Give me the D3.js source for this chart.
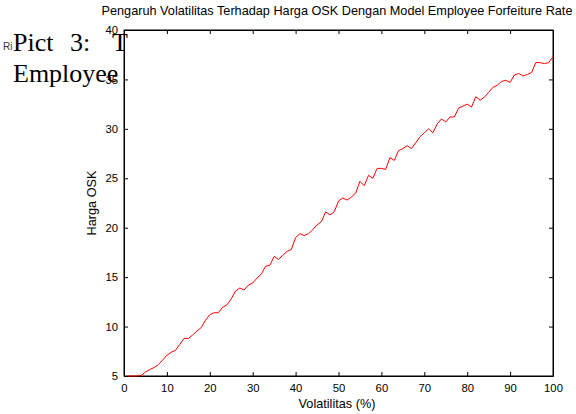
<!DOCTYPE html>
<html>
<head>
<meta charset="utf-8">
<script src="https://cdn.jsdelivr.net/npm/d3@7"></script>
<style>
  html, body { margin: 0; padding: 0; background: #fff; }
  svg { display: block; }
  text { font-family: "Liberation Sans", Arial, sans-serif; }
</style>
</head>
<body>
<svg id="chart" width="576" height="414"></svg>
<script>
// volatility (%) on x, option price (Harga OSK) on y
const volatilitas = d3.range(1, 101);
const hargaOSK = [
  5.0, 5.0, 5.0, 5.05, 5.4, 5.65, 5.85, 6.15, 6.6, 7.1,
  7.4, 7.6, 8.2, 8.8, 8.8, 9.15, 9.55, 9.9, 10.65, 11.2,
  11.4, 11.4, 11.95, 12.2, 12.8, 13.6, 13.9, 13.7, 14.2, 14.4,
  14.9, 15.3, 16.1, 16.2, 17.1, 16.8, 17.2, 17.6, 17.8, 19.0,
  19.4, 19.2, 19.4, 19.8, 20.3, 20.6, 21.6, 21.3, 21.6, 22.7,
  23.0, 22.8, 23.1, 23.5, 24.7, 24.25, 25.3, 25.0, 26.0, 26.0,
  25.9, 27.1, 26.8, 27.8, 28.0, 28.3, 28.0, 28.6, 29.2, 29.6,
  30.0, 29.6, 30.5, 31.0, 30.7, 31.2, 31.2, 32.1, 32.3, 32.5,
  32.2, 33.25, 32.9, 33.2, 33.7, 34.2, 34.4, 34.8, 34.9, 34.7,
  35.45, 35.6, 35.35, 35.5, 35.7, 36.7, 36.7, 36.6, 36.7, 37.3
];
const xTicks = d3.range(0, 101, 10);
const yTicks = d3.range(5, 41, 5);

const svg = d3.select("#chart");

// bits of the surrounding document that show through behind the figure
svg.append("text").attr("x", 3).attr("y", 50)
  .style("font-size", "10px").attr("fill", "#333").text("Ri");
const serif = [["Pict", 13, 51], ["3:", 70, 51], ["T", 112, 51], ["Employee", 13, 82]];
serif.forEach(d => {
  svg.append("text").attr("x", d[1]).attr("y", d[2])
    .style("font-family", "'Liberation Serif', 'Times New Roman', serif")
    .style("font-size", "26px").attr("fill", "#000").text(d[0]);
});

const pl = 124, pr = 553, pt = 30, pb = 376;
const x = d3.scaleLinear().domain([0, 100]).range([pl, pr]);
const y = d3.scaleLinear().domain([5, 40]).range([pb, pt]);

const g = svg.append("g");

// box
g.append("rect").attr("x", pl).attr("y", pt)
  .attr("width", pr - pl).attr("height", pb - pt)
  .attr("fill", "none").attr("stroke", "#000").attr("stroke-width", 1);

// axes, ticks inward like matlab
const axB = g.append("g").attr("transform", `translate(0,${pb})`)
  .call(d3.axisBottom(x).tickValues(xTicks).tickSizeInner(-4).tickSizeOuter(0).tickPadding(8));
const axT = g.append("g").attr("transform", `translate(0,${pt})`)
  .call(d3.axisTop(x).tickValues(xTicks).tickSizeInner(-4).tickSizeOuter(0).tickFormat(""));
const axL = g.append("g").attr("transform", `translate(${pl},0)`)
  .call(d3.axisLeft(y).tickValues(yTicks).tickSizeInner(-4).tickSizeOuter(0).tickPadding(6));
const axR = g.append("g").attr("transform", `translate(${pr},0)`)
  .call(d3.axisRight(y).tickValues(yTicks).tickSizeInner(-4).tickSizeOuter(0).tickFormat(""));

[axB, axT, axL, axR].forEach(a => {
  a.select(".domain").attr("stroke", "#000");
  a.selectAll("line").attr("stroke", "#000");
  a.selectAll("text").style("font-size", "11.3px").attr("fill", "#000")
    .style("font-family", "'Liberation Sans', Arial, sans-serif");
});

// the series
const line = d3.line().x((d, i) => x(volatilitas[i])).y(d => y(d));
g.append("path").datum(hargaOSK)
  .attr("d", line).attr("fill", "none")
  .attr("stroke", "#ff0000").attr("stroke-width", 1);

// labels
svg.append("text").attr("x", 337).attr("y", 15).attr("text-anchor", "middle")
  .style("font-size", "12.7px").text("Pengaruh Volatilitas Terhadap Harga OSK Dengan Model Employee Forfeiture Rate");
svg.append("text").attr("x", 337).attr("y", 408).attr("text-anchor", "middle")
  .style("font-size", "12.7px").text("Volatilitas (%)");
svg.append("text").attr("transform", "translate(96,203) rotate(-90)").attr("text-anchor", "middle")
  .style("font-size", "12.7px").text("Harga OSK");
</script>
</body>
</html>
